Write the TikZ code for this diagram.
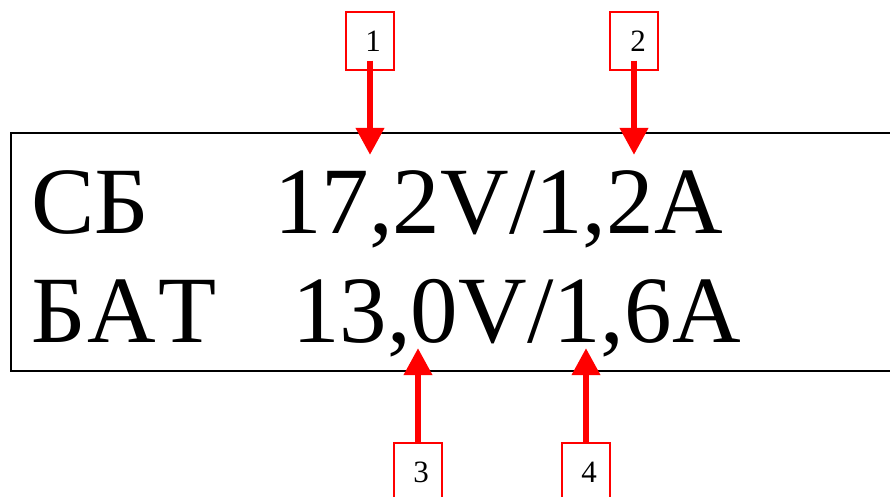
\documentclass[tikz,border=0pt]{standalone}
\usepackage{fontspec}
\setmainfont{Liberation Serif}
\usetikzlibrary{arrows.meta}
\begin{document}
\begin{tikzpicture}[x=1pt,y=-1pt,
  tag/.style={draw=red,line width=1.5pt,minimum width=48pt,minimum height=58pt,inner sep=0pt,font=\fontsize{31}{31}\selectfont},
  pointer/.style={draw=red,line width=6.5pt,-{Triangle[width=27pt,length=27pt]}},
  big/.style={anchor=base west,inner sep=0pt,font=\fontsize{95}{95}\selectfont}]
\useasboundingbox (0,0) rectangle (890,497);
\clip (0,0) rectangle (890,497);
\node[draw=black,line width=2pt,minimum width=900pt,minimum height=238pt,inner sep=0pt,anchor=north west] (panel) at (10,132) {};
\node[big] (l1) at (31,233) {СБ};
\node[big] (v1) at (274,233) {17,2V/1,2A};
\node[big] (l2) at (31,342) {Б\kern2ptА\kern2ptТ};
\node[big] (v2) at (292,342) {13,0V/1,6A};
\node[tag] (n1) at (370,41) {\hspace{6pt}1};
\node[tag] (n2) at (634,41) {\hspace{8pt}2};
\node[tag] (n3) at (418,472) {\hspace{6pt}3};
\node[tag] (n4) at (586,472) {\hspace{6pt}4};
\coordinate (t1) at (370,155);
\coordinate (t2) at (634,155);
\coordinate (t3) at (418,348);
\coordinate (t4) at (586,348);
\draw[pointer,shorten <=-10pt] (n1.south) -- (t1);
\draw[pointer,shorten <=-10pt] (n2.south) -- (t2);
\draw[pointer] (n3.north) -- (t3);
\draw[pointer] (n4.north) -- (t4);
\end{tikzpicture}
\end{document}
